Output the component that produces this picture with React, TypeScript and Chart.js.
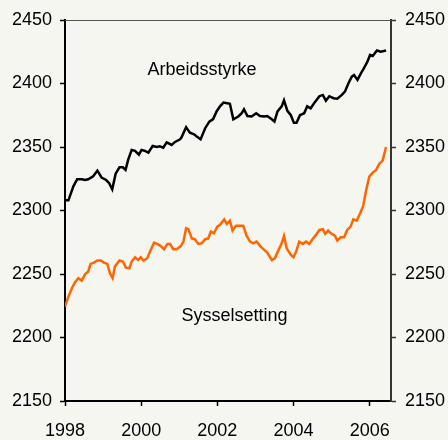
import React, { useEffect, useRef } from "react";
import { Chart, registerables } from "chart.js";

Chart.register(...registerables);

// Arbeidsstyrke (labour force), 1000 persons
const arbeidsYears = [
  1998.0, 1998.09, 1998.22, 1998.32, 1998.44, 1998.53, 1998.61, 1998.74, 1998.85, 1998.96,
  1999.08, 1999.16, 1999.24, 1999.33, 1999.43, 1999.52, 1999.59, 1999.66, 1999.75, 1999.84,
  1999.94, 2000.01, 2000.1, 2000.19, 2000.3, 2000.41, 2000.49, 2000.58, 2000.67, 2000.8,
  2000.89, 2001.02, 2001.06, 2001.18, 2001.28, 2001.39, 2001.47, 2001.56, 2001.68, 2001.79,
  2001.89, 2001.98, 2002.07, 2002.16, 2002.26, 2002.33, 2002.42, 2002.55, 2002.64, 2002.7,
  2002.79, 2002.9, 2003.02, 2003.12, 2003.23, 2003.31, 2003.43, 2003.5, 2003.58, 2003.69,
  2003.75, 2003.84, 2003.93, 2004.01, 2004.08, 2004.17, 2004.28, 2004.36, 2004.45, 2004.57,
  2004.68, 2004.77, 2004.85, 2004.94, 2005.05, 2005.15, 2005.27, 2005.35, 2005.44, 2005.53,
  2005.59, 2005.68, 2005.77, 2005.85, 2005.94, 2006.01, 2006.08, 2006.19, 2006.29, 2006.43,
];
const arbeidsValues = [
  2308, 2308, 2319, 2324.6, 2324.6, 2324, 2324.6, 2327, 2331.4, 2326,
  2324, 2321.5, 2316.7, 2329, 2334, 2334, 2332, 2340, 2347.7, 2347,
  2344, 2347.7, 2347, 2345.6, 2350.8, 2350, 2350.5, 2349.5, 2353.6, 2351.6,
  2354, 2356, 2357.6, 2365.5, 2361.3, 2360, 2358, 2356, 2364.8, 2370,
  2372, 2378, 2382, 2385, 2384.4, 2384, 2371.8, 2374, 2376.6, 2379.7,
  2374.4, 2374, 2376.6, 2374.4, 2374, 2374.4, 2371.8, 2370, 2378, 2382,
  2386.8, 2378.5, 2375, 2369, 2369, 2375, 2376.6, 2382, 2380.5, 2385.7,
  2390, 2391, 2386.5, 2390, 2388.4, 2388, 2391, 2393.6, 2400, 2405.4,
  2406.7, 2402.8, 2408, 2412, 2417.2, 2422.5, 2421.7, 2426, 2425, 2426,
];

// Sysselsetting (employment), 1000 persons
const sysselYears = [
  1998.0, 1998.09, 1998.18, 1998.26, 1998.35, 1998.44, 1998.53, 1998.61, 1998.67, 1998.76,
  1998.85, 1998.94, 1999.02, 1999.11, 1999.18, 1999.25, 1999.31, 1999.43, 1999.52, 1999.6,
  1999.69, 1999.75, 1999.84, 1999.92, 1999.99, 2000.06, 2000.16, 2000.23, 2000.34, 2000.42,
  2000.51, 2000.6, 2000.69, 2000.76, 2000.84, 2000.93, 2001.04, 2001.11, 2001.18, 2001.24,
  2001.33, 2001.41, 2001.5, 2001.59, 2001.68, 2001.76, 2001.83, 2001.91, 2002.0, 2002.07,
  2002.18, 2002.25, 2002.33, 2002.4, 2002.49, 2002.6, 2002.68, 2002.77, 2002.86, 2002.94,
  2003.03, 2003.14, 2003.23, 2003.31, 2003.43, 2003.51, 2003.6, 2003.69, 2003.75, 2003.82,
  2003.93, 2004.0, 2004.07, 2004.15, 2004.24, 2004.33, 2004.41, 2004.5, 2004.59, 2004.68,
  2004.77, 2004.83, 2004.91, 2005.0, 2005.09, 2005.15, 2005.24, 2005.33, 2005.41, 2005.5,
  2005.57, 2005.66, 2005.75, 2005.83, 2005.9, 2005.99, 2006.08, 2006.17, 2006.25, 2006.34,
  2006.43,
];
const sysselValues = [
  2224.3, 2232.2, 2238.8, 2243.3, 2246.7, 2244.8, 2250, 2252, 2258, 2259,
  2260.6, 2260.6, 2259, 2258, 2250.6, 2246.7, 2255.8, 2260.6, 2259.8, 2255,
  2254.5, 2259.8, 2263.2, 2261, 2263.2, 2260.6, 2262.4, 2267.6, 2274.7, 2273.7,
  2272, 2269.5, 2273.7, 2273.7, 2269.5, 2269.5, 2272, 2275.5, 2286, 2285.3,
  2278, 2277.4, 2273.7, 2274.2, 2277.4, 2278, 2283.4, 2282, 2287.3, 2288.7,
  2293, 2289.4, 2292, 2284.2, 2287.9, 2287.9, 2287.9, 2280, 2275.5, 2274.2,
  2275.5, 2271.6, 2269, 2266.8, 2261, 2262.4, 2268.4, 2274.2, 2280, 2270.3,
  2265, 2263.2, 2267.6, 2275.5, 2273.7, 2275.5, 2273.7, 2277.4, 2280.8, 2284.7,
  2285.3, 2281.6, 2284.2, 2281.6, 2280, 2276.3, 2279, 2279, 2284.7, 2287.3,
  2293, 2292, 2297.8, 2303.6, 2315, 2326.7, 2329.8, 2332, 2336.7, 2339.3,
  2350,
];

const xTicks = [1998, 2000, 2002, 2004, 2006];
const yTicks = [2150, 2200, 2250, 2300, 2350, 2400, 2450];

const annotationTexts = ["Arbeidsstyrke", "Sysselsetting"];
const annotationX = [2001.6, 2002.45];
const annotationY = [2410.6, 2217];

const FONT_FAMILY = "'Liberation Sans', Arial, Helvetica, sans-serif";
const BG = "#F6F6F1";

const toPoints = (xs: number[], ys: number[]) => xs.map((x, i) => ({ x, y: ys[i] }));

const overlayPlugin = {
  id: "overlay",
  afterDatasetsDraw(chart: any) {
    const { ctx, chartArea, scales } = chart;
    ctx.save();
    // top frame line
    ctx.strokeStyle = "#555555";
    ctx.lineWidth = 1;
    ctx.beginPath();
    ctx.moveTo(chartArea.left, chartArea.top + 0.5);
    ctx.lineTo(chartArea.right, chartArea.top + 0.5);
    ctx.stroke();
    // series labels
    ctx.font = `18px ${FONT_FAMILY}`;
    ctx.fillStyle = "#000000";
    ctx.textAlign = "center";
    ctx.textBaseline = "middle";
    annotationTexts.forEach((t, i) => {
      ctx.fillText(t, scales.x.getPixelForValue(annotationX[i]), scales.y.getPixelForValue(annotationY[i]));
    });
    ctx.restore();
  },
};

export default function App() {
  const ref = useRef<HTMLCanvasElement | null>(null);

  useEffect(() => {
    if (!ref.current) return;
    const font = { family: FONT_FAMILY, size: 18 };
    const chart = new Chart(ref.current, {
      type: "line",
      data: {
        datasets: [
          {
            label: "Arbeidsstyrke",
            data: toPoints(arbeidsYears, arbeidsValues),
            borderColor: "#000000",
            borderWidth: 2.5,
            pointRadius: 0,
            tension: 0,
            fill: false,
            yAxisID: "y",
          },
          {
            label: "Sysselsetting",
            data: toPoints(sysselYears, sysselValues),
            borderColor: "#FF6600",
            borderWidth: 2.5,
            pointRadius: 0,
            tension: 0,
            fill: false,
            yAxisID: "y",
          },
        ],
      },
      options: {
        responsive: false,
        animation: false,
        layout: { padding: { top: 20, left: 0, right: 0, bottom: 0 } },
        plugins: { legend: { display: false }, tooltip: { enabled: false } },
        scales: {
          x: {
            type: "linear",
            min: 1998,
            max: 2006.56,
            afterBuildTicks: (s: any) => {
              s.ticks = xTicks.map((v) => ({ value: v }));
            },
            afterFit: (s: any) => {
              s.height = 39;
            },
            ticks: {
              font,
              color: "#000000",
              padding: 14,
              maxRotation: 0,
              autoSkip: false,
              callback: (v: any) => String(v),
            },
            grid: { drawOnChartArea: false, drawTicks: true, tickLength: 5, tickColor: "#000000", tickWidth: 1.5 },
            border: { display: true, color: "#000000", width: 2 },
          },
          y: {
            type: "linear",
            position: "left",
            min: 2150,
            max: 2450,
            afterBuildTicks: (s: any) => {
              s.ticks = yTicks.map((v) => ({ value: v }));
            },
            afterFit: (s: any) => {
              s.width = 65;
            },
            ticks: { font, color: "#000000", padding: 8, callback: (v: any) => String(v) },
            grid: { drawOnChartArea: false, drawTicks: true, tickLength: 5, tickColor: "#000000", tickWidth: 1.5 },
            border: { display: true, color: "#000000", width: 2 },
          },
          y2: {
            type: "linear",
            position: "right",
            min: 2150,
            max: 2450,
            afterBuildTicks: (s: any) => {
              s.ticks = yTicks.map((v) => ({ value: v }));
            },
            afterFit: (s: any) => {
              s.width = 57;
            },
            ticks: { font, color: "#000000", padding: 9, callback: (v: any) => String(v) },
            grid: { drawOnChartArea: false, drawTicks: true, tickLength: 5, tickColor: "#333333", tickWidth: 1.5 },
            border: { display: true, color: "#333333", width: 2 },
          },
        },
      },
      plugins: [overlayPlugin],
    } as any);
    return () => chart.destroy();
  }, []);

  return (
    <div style={{ position: "fixed", left: 0, top: 0, width: 448, height: 440, background: BG }}>
      <canvas ref={ref} width={448} height={440} style={{ display: "block" }} />
    </div>
  );
}
